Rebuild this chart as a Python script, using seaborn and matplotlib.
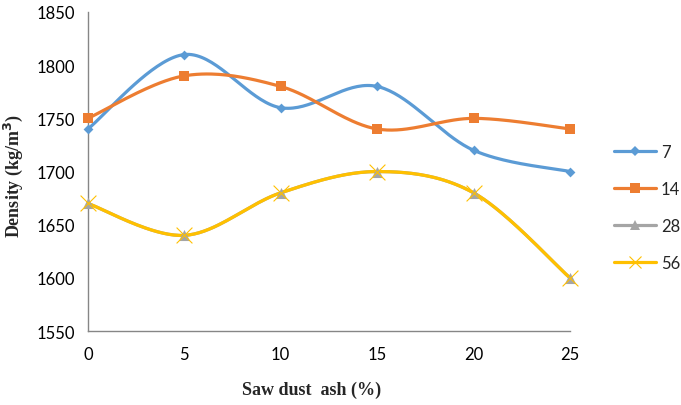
import numpy as np
import pandas as pd
import matplotlib
matplotlib.use("Agg")
import matplotlib.pyplot as plt
from matplotlib.lines import Line2D
import seaborn as sns

# Data
saw_dust_ash = [0, 5, 10, 15, 20, 25]
series_names = ["7", "14", "28", "56"]
density_7 = [1740, 1810, 1760, 1780, 1720, 1700]
density_14 = [1750, 1790, 1780, 1740, 1750, 1740]
density_28 = [1670, 1640, 1680, 1700, 1680, 1600]
density_56 = [1670, 1640, 1680, 1700, 1680, 1600]
y_ticks = [1550, 1600, 1650, 1700, 1750, 1800, 1850]
x_ticks = [0, 5, 10, 15, 20, 25]

colors = ["#5B9BD5", "#ED7D31", "#A5A5A5", "#FFC000"]
markers = ["D", "s", "^", "x"]
msizes = [5, 7, 8, 9]

sns.set_style("white")
plt.rcParams["font.family"] = ["Lato", "DejaVu Sans"]


def smooth(x, y, n=40):
    """Excel-style smoothed curve (Catmull-Rom Bezier) through the points."""
    x = np.asarray(x, float)
    y = np.asarray(y, float)
    px = np.concatenate([[x[0]], x, [x[-1]]])
    py = np.concatenate([[y[0]], y, [y[-1]]])
    xs, ys = [], []
    t = np.linspace(0, 1, n)
    for i in range(1, len(px) - 2):
        p0 = np.array([px[i], py[i]])
        p3 = np.array([px[i + 1], py[i + 1]])
        p1 = p0 + (np.array([px[i + 1], py[i + 1]]) - np.array([px[i - 1], py[i - 1]])) / 6
        p2 = p3 - (np.array([px[i + 2], py[i + 2]]) - np.array([px[i], py[i]])) / 6
        b = ((1 - t) ** 3)[:, None] * p0 + (3 * (1 - t) ** 2 * t)[:, None] * p1 \
            + (3 * (1 - t) * t ** 2)[:, None] * p2 + (t ** 3)[:, None] * p3
        xs.append(b[:, 0])
        ys.append(b[:, 1])
    return np.concatenate(xs), np.concatenate(ys)


fig = plt.figure(figsize=(6.81, 4.06), dpi=100)
ax = fig.add_axes([0.129, 0.182, 0.708, 0.786])

all_series = [density_7, density_14, density_28, density_56]

# lines first (Excel draws all lines below markers)
for name, vals, c in zip(series_names, all_series, colors):
    sx, sy = smooth(saw_dust_ash, vals)
    curve = pd.DataFrame({"x": sx, "y": sy})
    sns.lineplot(data=curve, x="x", y="y", ax=ax, color=c, linewidth=2.3,
                 sort=False, estimator=None, zorder=2)

for name, vals, c, m, ms in zip(series_names, all_series, colors, markers, msizes):
    pts = pd.DataFrame({"x": saw_dust_ash, "y": vals})
    if m == "x":
        sns.scatterplot(data=pts, x="x", y="y", ax=ax, color=c, marker="x",
                        s=ms ** 2 * 1.6, linewidth=0.8, zorder=4)
    else:
        sns.scatterplot(data=pts, x="x", y="y", ax=ax, color=c, marker=m,
                        s=ms ** 2, linewidth=0, zorder=3)

ax.set_xlim(0, 25)
ax.set_ylim(1550, 1850)
ax.set_xticks(x_ticks)
ax.set_yticks(y_ticks)
ax.tick_params(axis="both", labelsize=12, colors="#868686", length=5, width=1,
               direction="out", labelcolor="black")
ax.tick_params(axis="x", pad=6)
ax.tick_params(axis="y", pad=4)
for s in ["top", "right"]:
    ax.spines[s].set_visible(False)
for s in ["left", "bottom"]:
    ax.spines[s].set_color("#868686")
    ax.spines[s].set_linewidth(1)
for ln in ax.lines:
    ln.set_clip_on(False)
for coll in ax.collections:
    coll.set_clip_on(False)

ax.set_xlabel("Saw dust  ash (%)", fontsize=13, fontweight="bold",
              family="Liberation Serif")
ax.set_ylabel("Density (kg/m$^\\mathbf{3}$)", fontsize=13, fontweight="bold",
              family="Liberation Serif")
ax.xaxis.set_label_coords(0.465, -0.155)
ax.yaxis.set_label_coords(-0.13, 0.49)

handles = []
for name, c, m, ms in zip(series_names, colors, markers, msizes):
    if m == "x":
        h = Line2D([], [], color=c, lw=2.3, marker="x", markersize=ms, markeredgewidth=0.8)
    else:
        h = Line2D([], [], color=c, lw=2.3, marker=m, markersize=ms * 0.95,
                   markeredgewidth=0)
    handles.append(h)
fig.legend(handles=handles, labels=series_names, loc="center left",
           bbox_to_anchor=(0.890, 0.487), frameon=False, fontsize=12,
           handlelength=2.5, handletextpad=0.3, labelspacing=1.25, borderpad=0)

fig.savefig("out.png", dpi=100)
